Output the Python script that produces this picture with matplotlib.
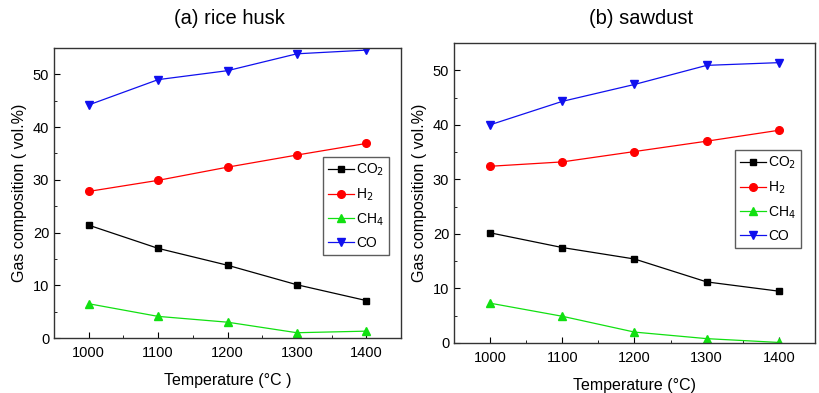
import matplotlib.pyplot as plt
from matplotlib.ticker import MultipleLocator

# Temperature points
temps = [1000, 1100, 1200, 1300, 1400]

# (a) rice husk
rh_co2 = [21.4, 17.0, 13.8, 10.1, 7.1]
rh_h2 = [27.8, 29.9, 32.4, 34.7, 36.9]
rh_ch4 = [6.5, 4.1, 3.0, 1.0, 1.3]
rh_co = [44.2, 49.0, 50.7, 53.9, 54.6]

# (b) sawdust
sd_co2 = [20.2, 17.5, 15.4, 11.2, 9.5]
sd_h2 = [32.4, 33.2, 35.1, 37.0, 39.0]
sd_ch4 = [7.3, 4.9, 2.0, 0.8, 0.1]
sd_co = [40.0, 44.3, 47.4, 50.9, 51.4]

plt.rcParams['font.family'] = ['Liberation Sans', 'DejaVu Sans']

fig = plt.figure(figsize=(8.19, 3.93), dpi=100)
ax1 = fig.add_axes([54 / 819, 1 - 338 / 393, 347 / 819, 290 / 393])
ax2 = fig.add_axes([454 / 819, 1 - 343 / 393, 361 / 819, 300 / 393])


def draw(ax, co2, h2, ch4, co, xlabel, leg_anchor):
    ax.plot(temps, co2, color='black', marker='s', ms=5, lw=0.9, label='CO$_2$')
    ax.plot(temps, h2, color='red', marker='o', ms=5.5, lw=0.9, label='H$_2$')
    ax.plot(temps, ch4, color='#11e011', marker='^', ms=5.5, lw=0.9, label='CH$_4$')
    ax.plot(temps, co, color='#1010ee', marker='v', ms=5.5, lw=0.9, label='CO')
    ax.set_xlim(950, 1450)
    ax.set_ylim(0, 55)
    ax.xaxis.set_major_locator(MultipleLocator(100))
    ax.xaxis.set_minor_locator(MultipleLocator(50))
    ax.yaxis.set_major_locator(MultipleLocator(10))
    ax.yaxis.set_minor_locator(MultipleLocator(5))
    ax.tick_params(which='both', direction='in', top=False, right=False, labelsize=10.5)
    ax.tick_params(which='major', length=4)
    ax.tick_params(which='minor', length=2.5)
    ax.tick_params(axis='x', pad=6)
    for s in ax.spines.values():
        s.set_linewidth(1.0)
        s.set_color('#333333')
    ax.set_xlabel(xlabel, fontsize=11.5, labelpad=9)
    ax.set_ylabel('Gas composition ( vol.%)', fontsize=11.5)
    leg = ax.legend(loc='upper left', bbox_to_anchor=leg_anchor, fontsize=10,
                    frameon=True, fancybox=False, edgecolor='#333333',
                    handlelength=1.9, handletextpad=0.15, borderpad=0.35,
                    labelspacing=0.6, borderaxespad=0, handleheight=0.7)
    leg.get_frame().set_linewidth(1.0)


draw(ax1, rh_co2, rh_h2, rh_ch4, rh_co, 'Temperature (°C )',
     ((323 - 54) / 347, (338 - 157) / 290))
draw(ax2, sd_co2, sd_h2, sd_ch4, sd_co, 'Temperature (°C)',
     ((735 - 454) / 361, (343 - 150) / 300))

fig.text(229 / 819, 1 - 18 / 393, '(a) rice husk', fontsize=14.5, ha='center', va='center')
fig.text(641 / 819, 1 - 18 / 393, '(b) sawdust', fontsize=14.5, ha='center', va='center')

fig.savefig('out.png', dpi=100)
